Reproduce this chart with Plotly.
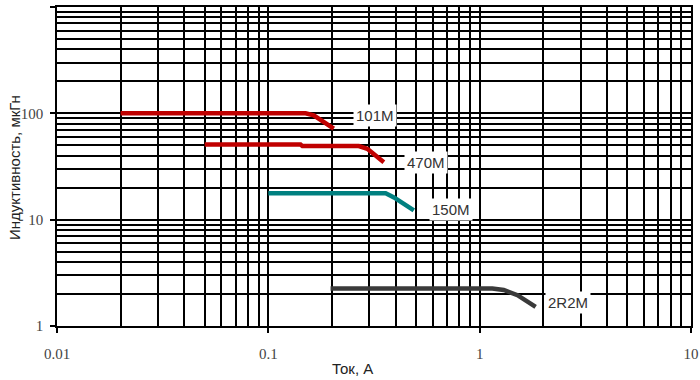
import math
import plotly.graph_objects as go

# Data (current A, inductance uH)
x_101M = [0.02, 0.15, 0.164, 0.183, 0.204]
y_101M = [100, 100, 95.7, 82.8, 71.7]

x_470M = [0.05, 0.142, 0.145, 0.268, 0.294, 0.316, 0.352]
y_470M = [51, 51, 49.2, 49.2, 46.4, 41.7, 34.7]

x_150M = [0.1, 0.359, 0.393, 0.488]
y_150M = [17.7, 17.7, 16.2, 12.2]

x_2R2M = [0.197, 1.148, 1.30, 1.51, 1.84]
y_2R2M = [2.25, 2.25, 2.18, 1.95, 1.51]

series_names = ["101M", "470M", "150M", "2R2M"]
series_x = [x_101M, x_470M, x_150M, x_2R2M]
series_y = [y_101M, y_470M, y_150M, y_2R2M]
series_colors = ["#c00000", "#c00000", "#008080", "#3a3a3a"]

x_ticks = [0.01, 0.1, 1, 10]
x_ticklabels = ["0.01", "0.1", "1", "10"]
y_ticks = [1, 10, 100, 1000]
y_ticklabels = ["1", "10", "100", "1000"]

fig = go.Figure()
for name, xs, ys, c in zip(series_names, series_x, series_y, series_colors):
    fig.add_trace(go.Scatter(x=xs, y=ys, mode="lines", name=name,
                             line=dict(color=c, width=4.5),
                             showlegend=False))

def minor_vals(lo, hi):
    vals = []
    d = lo
    while d < hi:
        for k in range(2, 10):
            vals.append(d * k)
        d *= 10
    return vals

tickfont = dict(family="Liberation Serif", size=15, color="#444")
common = dict(showgrid=True, gridcolor="black", gridwidth=1.5, ticks="outside", ticklen=5,
              tickcolor="black", tickwidth=1.5, showline=True, linecolor="black", linewidth=1.5,
              mirror=True, tickfont=tickfont, zeroline=False, automargin=False)

fig.update_xaxes(type="log", range=[-2, 1], tickvals=x_ticks, ticktext=x_ticklabels,
                 ticklabelstandoff=8, **common,
                 minor=dict(tickvals=minor_vals(0.01, 10), showgrid=True, ticks="",
                            gridcolor="black", gridwidth=1.5))
fig.update_yaxes(type="log", range=[0, 3], tickvals=y_ticks, ticktext=y_ticklabels,
                 ticklabelstandoff=4, **common,
                 minor=dict(tickvals=minor_vals(1, 1000), showgrid=True, ticks="",
                            gridcolor="black", gridwidth=1.5))

label_font = dict(family="Liberation Sans", size=15, color="#333")
label_pos = {"101M": (0.318, 95.7), "470M": (0.555, 34.5), "150M": (0.729, 12.4), "2R2M": (2.61, 1.68)}
for name in series_names:
    lx, ly = label_pos[name]
    fig.add_annotation(x=math.log10(lx), y=math.log10(ly), text=name, showarrow=False,
                       font=label_font, bgcolor="white", borderpad=2,
                       xanchor="center", yanchor="middle")

fig.add_annotation(xref="paper", yref="paper", x=(352 - 57) / (691 - 57), y=-(368 - 326) / (326 - 7),
                   text="Ток, А", showarrow=False, xanchor="center", yanchor="middle",
                   font=dict(family="Liberation Sans", size=15, color="#222"))
fig.add_annotation(xref="paper", yref="paper", x=-(57 - 14) / (691 - 57), y=(326 - 168) / (326 - 7),
                   text="Индуктивность, мкГн", showarrow=False, textangle=-90,
                   xanchor="center", yanchor="middle",
                   font=dict(family="Liberation Sans", size=15, color="#222"))

fig.update_layout(width=700, height=380, margin=dict(l=57, r=9, t=7, b=54),
                  paper_bgcolor="white", plot_bgcolor="white")

fig.write_html("out.html", config={"displayModeBar": False},
               post_script="document.body.style.margin='0';")
